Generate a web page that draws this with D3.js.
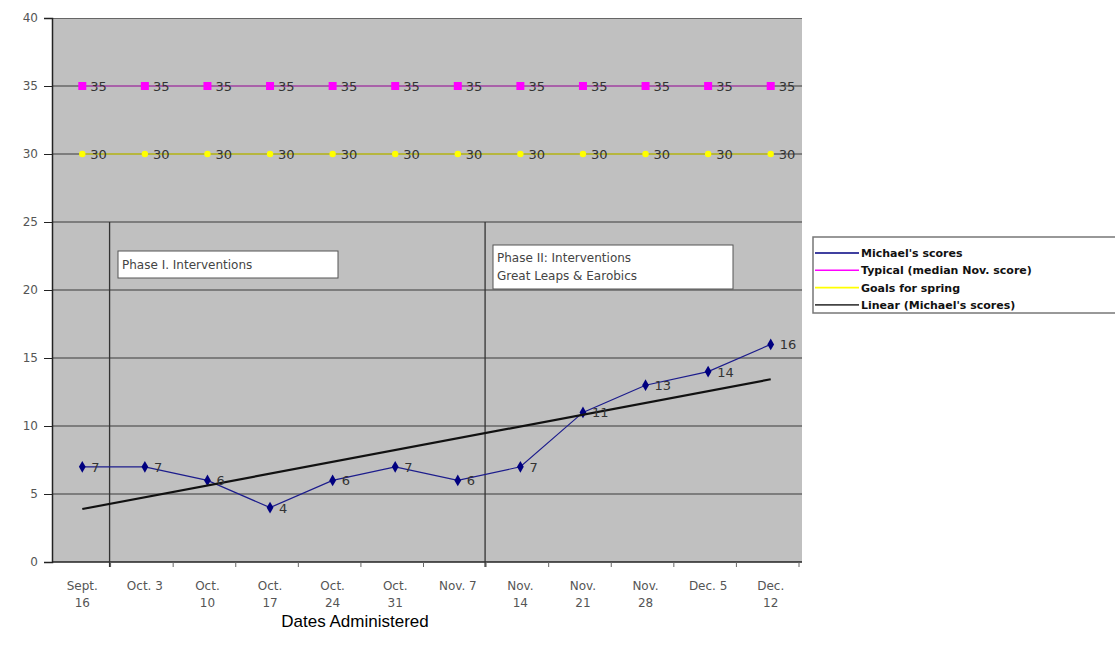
<!DOCTYPE html>
<html>
<head>
<meta charset="utf-8">
<script src="https://cdn.jsdelivr.net/npm/d3@7"></script>
<style>
  body { margin: 0; background: #fff; }
  svg { display: block; }
</style>
</head>
<body>
<svg id="chart" width="1115" height="647"></svg>
<script>
// dates on the x axis (first line / second line)
const dates = [
  ["Sept.", "16"], ["Oct. 3", ""], ["Oct.", "10"], ["Oct.", "17"],
  ["Oct.", "24"], ["Oct.", "31"], ["Nov. 7", ""], ["Nov.", "14"],
  ["Nov.", "21"], ["Nov.", "28"], ["Dec. 5", ""], ["Dec.", "12"]
];
const michael = [7, 7, 6, 4, 6, 7, 6, 7, 11, 13, 14, 16];
const typical = [35, 35, 35, 35, 35, 35, 35, 35, 35, 35, 35, 35];
const goals = [30, 30, 30, 30, 30, 30, 30, 30, 30, 30, 30, 30];
const yTicks = [0, 5, 10, 15, 20, 25, 30, 35, 40];
const legendNames = ["Michael's scores", "Typical (median Nov. score)", "Goals for spring", "Linear (Michael's scores)"];

const svg = d3.select("#chart");
const font = "'DejaVu Sans', Verdana, sans-serif";

const x = d3.scaleBand().domain(d3.range(dates.length)).range([51, 802]);
const y = d3.scaleLinear().domain([0, 40]).range([562, 18]);
const cx = i => x(i) + x.bandwidth() / 2;

// plot area
svg.append("rect")
  .attr("x", 52).attr("y", 18)
  .attr("width", 802 - 52).attr("height", 562 - 18)
  .attr("fill", "#c0c0c0");
svg.append("line").attr("x1", 52).attr("x2", 802).attr("y1", 18.5).attr("y2", 18.5)
  .attr("stroke", "#666");

// gridlines
svg.append("g").selectAll("line").data(yTicks.filter(d => d > 0 && d < 40)).join("line")
  .attr("x1", 52).attr("x2", 802)
  .attr("y1", d => y(d)).attr("y2", d => y(d))
  .attr("stroke", "#3a3a3a").attr("stroke-width", 1.2);

// y axis
const yAxis = svg.append("g").attr("transform", "translate(52,0)")
  .call(d3.axisLeft(y).tickValues(yTicks).tickSize(8).tickPadding(6));
yAxis.select(".domain").attr("stroke", "#222").attr("stroke-width", 1.5);
yAxis.selectAll(".tick line").attr("stroke", "#222");
yAxis.selectAll("text").attr("fill", "#555").style("font", "12px " + font);

// x axis
svg.append("line").attr("x1", 52).attr("x2", 802).attr("y1", 562).attr("y2", 562)
  .attr("stroke", "#222").attr("stroke-width", 1.5);
svg.append("g").selectAll("line").data(d3.range(1, dates.length + 1)).join("line")
  .attr("x1", i => x(0) + i * x.step() - 3).attr("x2", i => x(0) + i * x.step() - 3)
  .attr("y1", 562).attr("y2", 567)
  .attr("stroke", "#666");

const xl = svg.append("g").selectAll("text").data(dates).join("text")
  .attr("x", (d, i) => cx(i))
  .attr("y", 590)
  .attr("text-anchor", "middle")
  .attr("fill", "#555")
  .style("font", "12px " + font);
xl.append("tspan").text(d => d[0]);
xl.append("tspan").attr("x", (d, i) => cx(i)).attr("dy", 17).text(d => d[1]);

svg.append("text").attr("x", 355).attr("y", 627).attr("text-anchor", "middle")
  .style("font", "17px 'Liberation Sans', Arial, sans-serif").attr("fill", "#000")
  .text("Dates Administered");

// phase separators
const b1 = x(0) + x.step(), b7 = x(0) + 7 * x.step();
[b1 - 4, b7 - 4].forEach(bx => {
  svg.append("line").attr("x1", bx).attr("x2", bx).attr("y1", y(25)).attr("y2", 567)
    .attr("stroke", "#333").attr("stroke-width", 1.3);
});

// phase text boxes
svg.append("rect").attr("x", 118).attr("y", 251).attr("width", 220).attr("height", 27)
  .attr("fill", "#fff").attr("stroke", "#555");
svg.append("text").attr("x", 122).attr("y", 269).attr("fill", "#444")
  .style("font", "12px " + font).text("Phase I. Interventions");
svg.append("rect").attr("x", 493).attr("y", 245).attr("width", 240).attr("height", 44)
  .attr("fill", "#fff").attr("stroke", "#555");
svg.append("text").attr("x", 497).attr("y", 262).attr("fill", "#444")
  .style("font", "12px " + font).text("Phase II: Interventions");
svg.append("text").attr("x", 497).attr("y", 280).attr("fill", "#444")
  .style("font", "12px " + font).text("Great Leaps & Earobics");

// linear trend of Michael's scores
const xs = d3.range(1, michael.length + 1);
const mx = d3.mean(xs), my = d3.mean(michael);
const slope = d3.sum(xs, (v, i) => (v - mx) * (michael[i] - my)) / d3.sum(xs, v => (v - mx) ** 2);
const icpt = my - slope * mx;
const line = d3.line().x((d, i) => cx(i)).y(d => y(d));

// typical
svg.append("path").datum(typical).attr("d", line)
  .attr("fill", "none").attr("stroke", "#e040e0").attr("stroke-width", 0.9);
svg.append("g").selectAll("rect").data(typical).join("rect")
  .attr("x", (d, i) => cx(i) - 4).attr("y", d => y(d) - 4)
  .attr("width", 8).attr("height", 8).attr("fill", "#ff00ff");
svg.append("g").selectAll("text").data(typical).join("text")
  .attr("x", (d, i) => cx(i) + 8).attr("y", d => y(d) + 5)
  .attr("fill", "#333").style("font", "13px " + font).text(d => d);

// goals
svg.append("path").datum(goals).attr("d", line)
  .attr("fill", "none").attr("stroke", "#f0f000").attr("stroke-width", 1);
svg.append("g").selectAll("circle").data(goals).join("circle")
  .attr("cx", (d, i) => cx(i)).attr("cy", d => y(d)).attr("r", 3.2).attr("fill", "#ffff00");
svg.append("g").selectAll("text").data(goals).join("text")
  .attr("x", (d, i) => cx(i) + 8).attr("y", d => y(d) + 5)
  .attr("fill", "#333").style("font", "13px " + font).text(d => d);

// Michael
svg.append("path").datum(michael).attr("d", line)
  .attr("fill", "none").attr("stroke", "#1c1c8c").attr("stroke-width", 1.2);
svg.append("g").selectAll("path").data(michael).join("path")
  .attr("d", d3.symbol(d3.symbolDiamond, 40))
  .attr("transform", (d, i) => `translate(${cx(i)},${y(d)})`)
  .attr("fill", "#000080");

// trend line
svg.append("line")
  .attr("x1", cx(0)).attr("y1", y(icpt + slope * 1))
  .attr("x2", cx(michael.length - 1)).attr("y2", y(icpt + slope * michael.length))
  .attr("stroke", "#111").attr("stroke-width", 2.2);

svg.append("g").selectAll("text").data(michael).join("text")
  .attr("x", (d, i) => cx(i) + 9).attr("y", d => y(d) + 5)
  .attr("fill", "#333").style("font", "13px " + font).text(d => d);

// legend
const legColors = ["#000080", "#ff00ff", "#ffff00", "#444"];
const leg = svg.append("g");
leg.append("rect").attr("x", 813).attr("y", 237).attr("width", 310).attr("height", 76)
  .attr("fill", "#fff").attr("stroke", "#777").attr("stroke-width", 1.5);
legendNames.forEach((n, i) => {
  const ly = 253 + i * 17.3;
  leg.append("line").attr("x1", 815).attr("x2", 859).attr("y1", ly).attr("y2", ly)
    .attr("stroke", legColors[i]).attr("stroke-width", 1.6);
  leg.append("text").attr("x", 861).attr("y", ly + 4).attr("fill", "#111")
    .style("font", "bold 11px " + font).text(n);
});
</script>
</body>
</html>
